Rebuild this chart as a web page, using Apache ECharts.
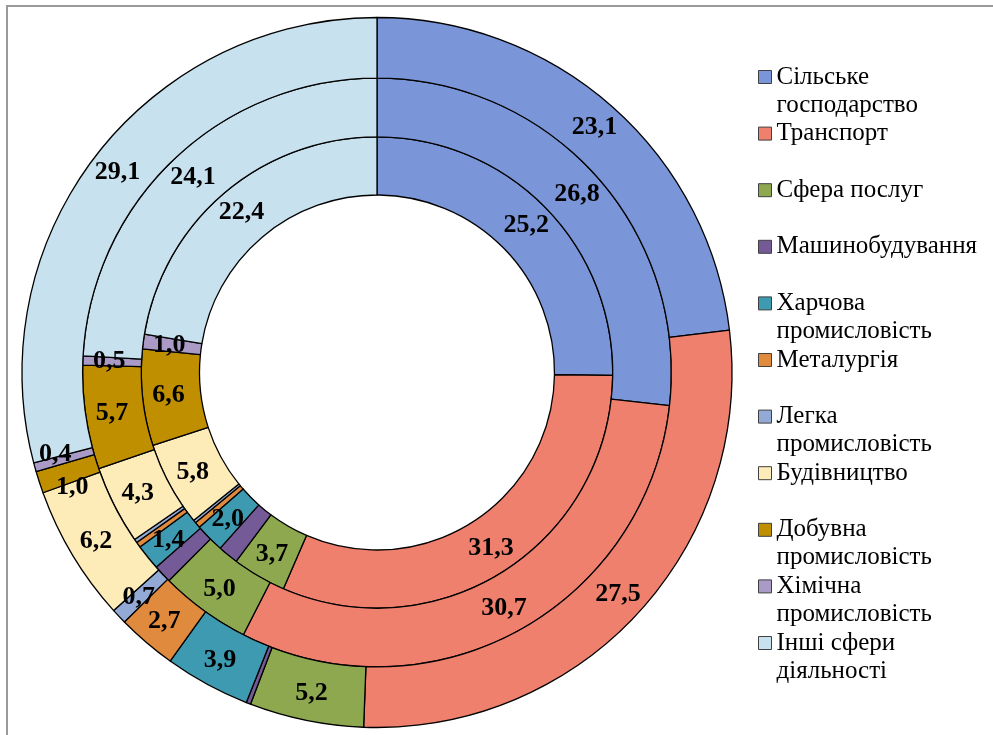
<!DOCTYPE html>
<html>
<head>
<meta charset="utf-8">
<script src="https://cdn.jsdelivr.net/npm/echarts@6/dist/echarts.min.js"></script>
<style>
html,body{margin:0;padding:0;background:#fff;}
#chart{width:993px;height:735px;}
</style>
</head>
<body>
<div id="chart"></div>
<script>
// Categories (legend order, also slice order clockwise from 12 o'clock)
var categories = ['Сільське господарство','Транспорт','Сфера послуг','Машинобудування','Харчова промисловість','Металургія','Легка промисловість','Будівництво','Добувна промисловість','Хімічна промисловість','Інші сфери діяльності'];
var legendText = ['Сільське\nгосподарство','Транспорт','Сфера послуг','Машинобудування','Харчова\nпромисловість','Металургія','Легка\nпромисловість','Будівництво','Добувна\nпромисловість','Хімічна\nпромисловість','Інші сфери\nдіяльності'];
// Ring values (%)
var innerValues  = [25.2, 31.3, 3.7, 1.4, 2.0, 0.4, 0.2, 5.8, 6.6, 1.0, 22.4];
var middleValues = [26.8, 30.7, 5.0, 1.0, 1.4, 0.3, 0.2, 4.3, 5.7, 0.5, 24.1];
var outerValues  = [23.1, 27.5, 5.2, 0.2, 3.9, 2.7, 0.7, 6.2, 1.0, 0.4, 29.1];
// Which slices carry a value label
var innerShow  = [1,1,1,0,1,0,0,1,1,1,1];
var middleShow = [1,1,1,0,1,0,0,1,1,1,1];
var outerShow  = [1,1,1,0,1,1,1,1,1,1,1];
var colors = ['#7B96D8','#EF806E','#8DA84F','#745A96','#3E9AB0','#E08A3E','#94AAD6','#FEECB8','#BF8F00','#A99BC5','#C7E1EE'];

var C = [377, 372.5];
var radii = [[177.5, 235.7], [235.7, 294.4], [294.4, 355]];
// small nudges of crowded labels in the outer ring (by category index)
var outerLabelNudge = {8: [7, 14], 9: [-6, -6]};

function fmt(v){ return v.toFixed(1).replace('.', ','); }

function makeSeries(name, values, show, r, nudge){
  nudge = nudge || {};
  return {
    type: 'pie',
    name: name,
    center: C,
    radius: r,
    startAngle: 90,
    clockwise: true,
    silent: true,
    minAngle: 0,
    avoidLabelOverlap: false,
    labelLayout: {hideOverlap: false},
    itemStyle: {borderColor: '#000', borderWidth: 1.3},
    label: {
      show: true, position: 'inside', overflow: 'none',
      fontFamily: 'Liberation Serif', fontWeight: 'bold', fontSize: 26, color: '#000',
      formatter: function(p){ return fmt(p.value); }
    },
    labelLine: {show: false},
    emphasis: {disabled: true},
    data: categories.map(function(c, i){
      var lab = {show: !!show[i]};
      if (nudge[i]) lab.offset = nudge[i];
      return {name: c, value: values[i], itemStyle: {color: colors[i]}, label: lab};
    })
  };
}

var LH = 28;
var legends = categories.map(function(c, i){
  var centerY = 77 + i * 56.6;
  var twoLine = legendText[i].indexOf('\n') >= 0;
  return {
    orient: 'vertical',
    left: 758,
    top: twoLine ? centerY - 1.5 * LH : centerY - LH / 2,
    padding: 0,
    itemWidth: 13, itemHeight: 13, itemGap: 0,
    icon: 'rect',
    selectedMode: false,
    data: [c],
    itemStyle: {borderColor: '#404040', borderWidth: 1},
    formatter: function(){ return twoLine ? ' \n' + legendText[i] : legendText[i]; },
    textStyle: {
      fontFamily: 'Liberation Serif', fontSize: 25, color: '#000', lineHeight: LH
    }
  };
});

var chart = echarts.init(document.getElementById('chart'), null, {renderer: 'canvas'});
chart.setOption({
  animation: false,
  backgroundColor: '#fff',
  legend: legends,
  graphic: [{
    type: 'rect', silent: true,
    shape: {x: 7, y: 6, width: 1100, height: 1000},
    style: {fill: 'none', stroke: '#9a9a9a', lineWidth: 2}
  }],
  series: [
    makeSeries('inner', innerValues, innerShow, radii[0]),
    makeSeries('middle', middleValues, middleShow, radii[1]),
    makeSeries('outer', outerValues, outerShow, radii[2], outerLabelNudge)
  ]
});
</script>
</body>
</html>
